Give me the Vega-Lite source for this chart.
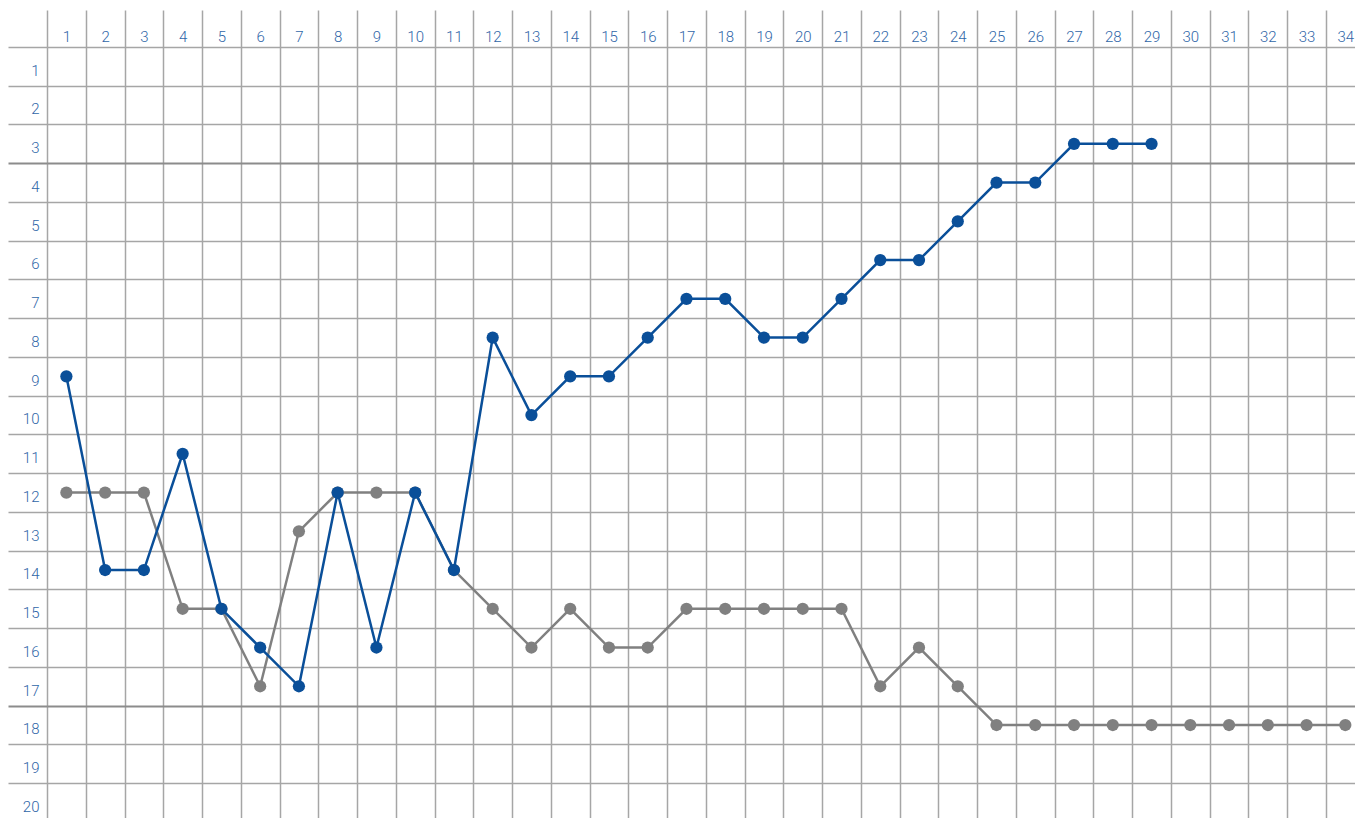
{
  "$schema": "https://vega.github.io/schema/vega-lite/v6.json",
  "width": 1308,
  "height": 771,
  "autosize": {"type": "none"},
  "padding": {"left": 47, "top": 47, "right": 0, "bottom": 0},
  "background": "white",
  "config": {"view": {"stroke": null}},
  "data": {
    "values": [
      {"team": "A", "matchday": 1, "position": 9},
      {"team": "A", "matchday": 2, "position": 14},
      {"team": "A", "matchday": 3, "position": 14},
      {"team": "A", "matchday": 4, "position": 11},
      {"team": "A", "matchday": 5, "position": 15},
      {"team": "A", "matchday": 6, "position": 16},
      {"team": "A", "matchday": 7, "position": 17},
      {"team": "A", "matchday": 8, "position": 12},
      {"team": "A", "matchday": 9, "position": 16},
      {"team": "A", "matchday": 10, "position": 12},
      {"team": "A", "matchday": 11, "position": 14},
      {"team": "A", "matchday": 12, "position": 8},
      {"team": "A", "matchday": 13, "position": 10},
      {"team": "A", "matchday": 14, "position": 9},
      {"team": "A", "matchday": 15, "position": 9},
      {"team": "A", "matchday": 16, "position": 8},
      {"team": "A", "matchday": 17, "position": 7},
      {"team": "A", "matchday": 18, "position": 7},
      {"team": "A", "matchday": 19, "position": 8},
      {"team": "A", "matchday": 20, "position": 8},
      {"team": "A", "matchday": 21, "position": 7},
      {"team": "A", "matchday": 22, "position": 6},
      {"team": "A", "matchday": 23, "position": 6},
      {"team": "A", "matchday": 24, "position": 5},
      {"team": "A", "matchday": 25, "position": 4},
      {"team": "A", "matchday": 26, "position": 4},
      {"team": "A", "matchday": 27, "position": 3},
      {"team": "A", "matchday": 28, "position": 3},
      {"team": "A", "matchday": 29, "position": 3},
      {"team": "B", "matchday": 1, "position": 12},
      {"team": "B", "matchday": 2, "position": 12},
      {"team": "B", "matchday": 3, "position": 12},
      {"team": "B", "matchday": 4, "position": 15},
      {"team": "B", "matchday": 5, "position": 15},
      {"team": "B", "matchday": 6, "position": 17},
      {"team": "B", "matchday": 7, "position": 13},
      {"team": "B", "matchday": 8, "position": 12},
      {"team": "B", "matchday": 9, "position": 12},
      {"team": "B", "matchday": 10, "position": 12},
      {"team": "B", "matchday": 11, "position": 14},
      {"team": "B", "matchday": 12, "position": 15},
      {"team": "B", "matchday": 13, "position": 16},
      {"team": "B", "matchday": 14, "position": 15},
      {"team": "B", "matchday": 15, "position": 16},
      {"team": "B", "matchday": 16, "position": 16},
      {"team": "B", "matchday": 17, "position": 15},
      {"team": "B", "matchday": 18, "position": 15},
      {"team": "B", "matchday": 19, "position": 15},
      {"team": "B", "matchday": 20, "position": 15},
      {"team": "B", "matchday": 21, "position": 15},
      {"team": "B", "matchday": 22, "position": 17},
      {"team": "B", "matchday": 23, "position": 16},
      {"team": "B", "matchday": 24, "position": 17},
      {"team": "B", "matchday": 25, "position": 18},
      {"team": "B", "matchday": 26, "position": 18},
      {"team": "B", "matchday": 27, "position": 18},
      {"team": "B", "matchday": 28, "position": 18},
      {"team": "B", "matchday": 29, "position": 18},
      {"team": "B", "matchday": 30, "position": 18},
      {"team": "B", "matchday": 31, "position": 18},
      {"team": "B", "matchday": 32, "position": 18},
      {"team": "B", "matchday": 33, "position": 18},
      {"team": "B", "matchday": 34, "position": 18}
    ]
  },
  "encoding": {
    "x": {
      "field": "matchday",
      "type": "quantitative",
      "scale": {"domain": [0.5, 34.25], "nice": false, "zero": false},
      "axis": {
        "orient": "top",
        "title": null,
        "values": [1,2,3,4,5,6,7,8,9,10,11,12,13,14,15,16,17,18,19,20,21,22,23,24,25,26,27,28,29,30,31,32,33,34],
        "format": "d",
        "domain": false,
        "grid": true,
        "gridColor": "#a6a6a6",
        "gridWidth": 1.5,
        "ticks": true,
        "tickColor": "#a6a6a6",
        "tickWidth": 1.5,
        "tickSize": 37,
        "tickOffset": -19.38,
        "labelOffset": 19.38,
        "labelPadding": -31,
        "labelBaseline": "alphabetic",
        "labelFont": "Roboto",
        "labelFontSize": 15,
        "labelFontWeight": 300,
        "labelColor": "#2f66a8",
        "labelFlush": false,
        "labelOverlap": false,
        "labelBound": false
      }
    },
    "y": {
      "field": "position",
      "type": "quantitative",
      "scale": {"domain": [0.5, 20.4], "reverse": true, "nice": false, "zero": false},
      "axis": {
        "orient": "left",
        "title": null,
        "values": [1,2,3,4,5,6,7,8,9,10,11,12,13,14,15,16,17,18,19,20],
        "format": "d",
        "domain": false,
        "grid": true,
        "gridColor": {"condition": {"test": "datum.value === 4 || datum.value === 18", "value": "#8c8c8c"}, "value": "#a6a6a6"},
        "gridWidth": {"condition": {"test": "datum.value === 4 || datum.value === 18", "value": 2.2}, "value": 1.5},
        "ticks": true,
        "tickColor": {"condition": {"test": "datum.value === 4 || datum.value === 18", "value": "#8c8c8c"}, "value": "#a6a6a6"},
        "tickWidth": {"condition": {"test": "datum.value === 4 || datum.value === 18", "value": 2.2}, "value": 1.5},
        "tickSize": 39,
        "tickOffset": -19.37,
        "labelOffset": 23.2,
        "labelPadding": -31,
        "labelAlign": "right",
        "labelBaseline": "middle",
        "labelFont": "Roboto",
        "labelFontSize": 15,
        "labelFontWeight": 300,
        "labelColor": "#2f66a8",
        "labelFlush": false,
        "labelOverlap": false,
        "labelBound": false
      }
    }
  },
  "layer": [
    {"transform": [{"filter": "datum.team === 'B'"}], "mark": {"type": "line", "color": "#808080", "strokeWidth": 2.5}},
    {"transform": [{"filter": "datum.team === 'B'"}], "mark": {"type": "point", "filled": true, "color": "#808080", "size": 150, "opacity": 1}},
    {"transform": [{"filter": "datum.team === 'A'"}], "mark": {"type": "line", "color": "#0a4f99", "strokeWidth": 2.5}},
    {"transform": [{"filter": "datum.team === 'A'"}], "mark": {"type": "point", "filled": true, "color": "#0a4f99", "size": 150, "opacity": 1}}
  ]
}
